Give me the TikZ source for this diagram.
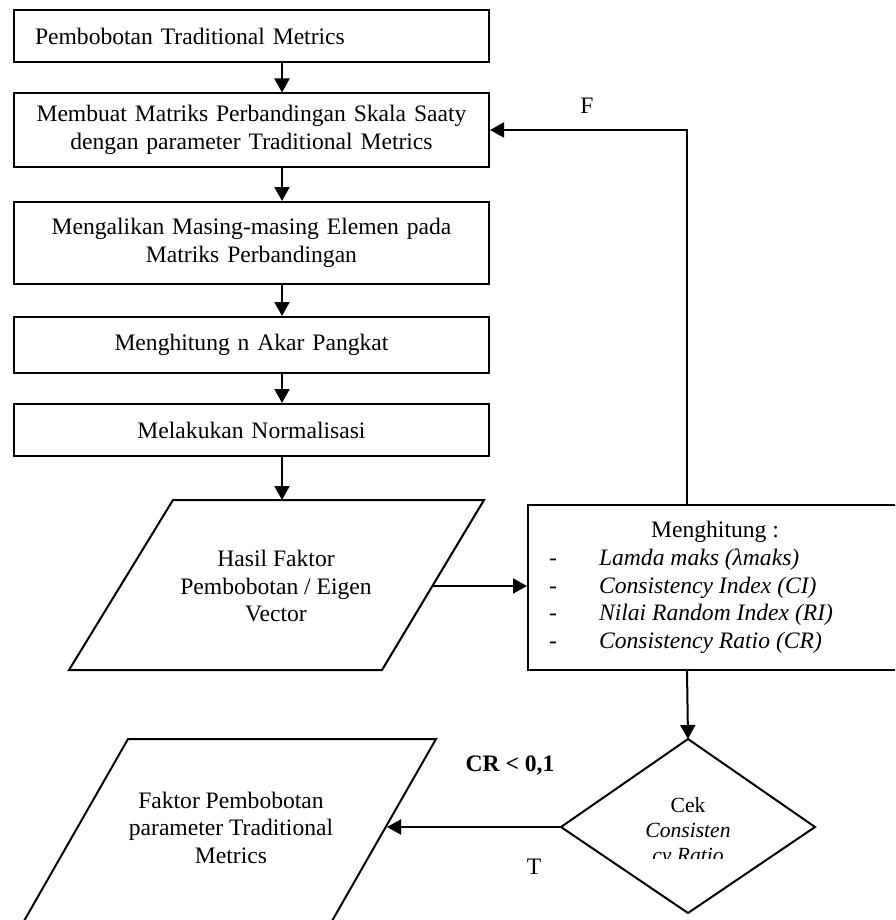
\documentclass[tikz,border=0pt]{standalone}
\usepackage{fontspec}
\setmainfont{Liberation Serif}
\usetikzlibrary{arrows.meta,calc}
\begin{document}
\begin{tikzpicture}[x=0.5pt,y=-0.5pt, line width=1pt,
  every node/.style={font=\fontsize{11.8pt}{14.25pt}\selectfont},
  box/.style={draw, rectangle, minimum width=237.5pt, text width=227pt, inner xsep=5.25pt, inner ysep=0pt, align=center},
  txt/.style={inner sep=0pt, anchor=base},
  dtxt/.style={inner sep=0pt, anchor=base, font=\fontsize{10.8pt}{12.5pt}\selectfont},
  para/.style={align=center, font=\fontsize{11.8pt}{13.75pt}\selectfont},
  arr/.style={-{Triangle[length=7pt,width=7.5pt]}}]
\useasboundingbox (0,0) rectangle (895,920);
\clip (0,0) rectangle (895,920);

% left column boxes
\node[box, text width=216.5pt, inner xsep=10.5pt, align=left, minimum height=26pt] (b1) at (251.5,36) {Pembobotan Traditional Metrics};
\node[box, minimum height=36.5pt] (b2) at (251.5,130) {Membuat Matriks Perbandingan Skala Saaty\\dengan parameter Traditional Metrics};
\node[box, minimum height=41pt] (b3) at (251.5,243) {Mengalikan Masing-masing Elemen pada\\Matriks Perbandingan};
\node[box, minimum height=28pt] (b4) at (251.5,345) {Menghitung n Akar Pangkat};
\node[box, minimum height=26pt] (b5) at (251.5,430) {Melakukan Normalisasi};

\coordinate (ax) at (282,0);
\coordinate (vx) at (687,0);

% parallelogram 1
\draw (173,500) -- (484,500) -- (382,670) -- (69,670) -- cycle;
\coordinate (p1t) at (282,500);
\coordinate (p1r) at (433,586);
\node[para] (p1) at (276,586) {Hasil Faktor\\Pembobotan / Eigen\\Vector};

% Menghitung box
\node[draw, minimum width=188.5pt, minimum height=82.5pt, inner sep=0pt] (mh) at (716.5,587.5) {};
\node[txt] (m0) at (715,537) {Menghitung :};
\node[txt] (d1) at (553,565) {-};
\node[txt, anchor=base west] (m1) at (598,565) {\itshape Lamda maks (λmaks)};
\node[txt] (d2) at (553,593) {-};
\node[txt, anchor=base west] (m2) at (598,593) {\itshape Consistency Index (CI)};
\node[txt] (d3) at (553,620) {-};
\node[txt, anchor=base west] (m3) at (598,620) {\itshape Nilai Random Index (RI)};
\node[txt] (d4) at (553,648) {-};
\node[txt, anchor=base west] (m4) at (598,648) {\itshape Consistency Ratio (CR)};

% diamond
\draw (688,739) coordinate (dt) -- (815,827) coordinate (dr) -- (688,913) coordinate (db) -- (561,827) coordinate (dl) -- cycle;
\node[dtxt] (dc1) at (688,812) {Cek};
\node[dtxt] (dc2) at (688,837) {\itshape Consisten};
\begin{scope}
  \clip (600,700) rectangle (780,858);
  \node[dtxt] (dc3) at (688,862) {\itshape cy Ratio};
\end{scope}

% parallelogram 2
\draw (128,739) -- (436,739) -- (324,935) -- (16,935) -- cycle;
\coordinate (p2r) at (387,827);
\node[para] (p2) at (231,827.5) {Faktor Pembobotan\\parameter Traditional\\Metrics};

% connectors
\draw[arr] (b1.south -| ax) -- (b2.north -| ax);
\draw[arr] (b2.south -| ax) -- (b3.north -| ax);
\draw[arr] (b3.south -| ax) -- (b4.north -| ax);
\draw[arr] (b4.south -| ax) -- (b5.north -| ax);
\draw[arr] (b5.south -| ax) -- (p1t);
\draw[arr] (p1r) -- (p1r -| mh.west);
\draw[arr] (mh.north -| vx) |- (b2.east);
\draw[arr] (mh.south -| vx) -- (dt);
\draw[arr] (dl) -- (p2r);

% labels
\node (lf) at (587,105.5) {F};
\node (lcr) at (510,765) {\textbf{CR < 0,1}};
\node (lt) at (534,867) {T};
\end{tikzpicture}
\end{document}
